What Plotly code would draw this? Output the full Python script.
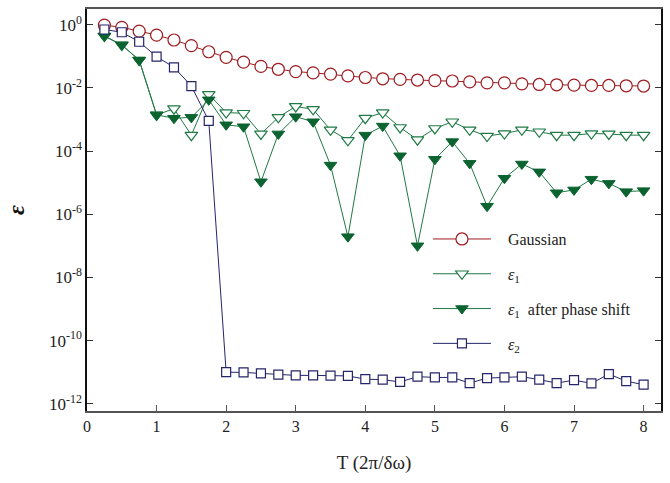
import plotly.graph_objects as go

T = [0.25 * i for i in range(1, 33)]

gaussian = [0.98, 0.83, 0.63, 0.47, 0.33, 0.22, 0.14, 0.093, 0.066, 0.048, 0.039, 0.033,
            0.030, 0.0275, 0.024, 0.0214, 0.0195, 0.0186, 0.0178, 0.0170, 0.0166, 0.0155,
            0.0145, 0.0145, 0.0135, 0.0129, 0.0126, 0.0123, 0.0120, 0.0120, 0.0117, 0.0115]

eps1 = [0.44, 0.23, 0.076, 1.4e-3, 2.2e-3, 3.2e-4, 6.3e-3, 1.66e-3, 1.58e-3, 3.5e-4,
        1.17e-3, 2.6e-3, 2.1e-3, 4.7e-4, 2.2e-4, 1.1e-3, 1.66e-3, 5.6e-4, 2.3e-4, 5.2e-4,
        8.5e-4, 4.7e-4, 3.0e-4, 3.6e-4, 4.7e-4, 4.1e-4, 3.2e-4, 3.2e-4, 3.6e-4, 3.5e-4,
        3.2e-4, 3.2e-4]

eps1_shift = [0.44, 0.23, 0.076, 1.4e-3, 1.1e-3, 1.17e-3, 4.2e-3, 6.8e-4, 5.9e-4, 1.07e-5,
              3.5e-4, 1.23e-3, 8.5e-4, 3.6e-5, 1.95e-7, 3.2e-4, 6.2e-4, 7.1e-5, 1.0e-7,
              5.5e-5, 2.0e-4, 4.1e-5, 1.8e-6, 1.38e-5, 3.9e-5, 2.2e-5, 4.8e-6, 5.9e-6,
              1.29e-5, 9.5e-6, 5.2e-6, 5.6e-6]

eps2 = [0.71, 0.58, 0.29, 0.098, 0.045, 0.0115, 9.1e-4, 1.0e-11, 9.8e-12, 9.1e-12,
        8.3e-12, 7.9e-12, 7.9e-12, 7.8e-12, 7.6e-12, 6.0e-12, 5.8e-12, 4.9e-12, 7.2e-12,
        6.8e-12, 6.8e-12, 4.5e-12, 6.5e-12, 6.8e-12, 7.2e-12, 5.8e-12, 4.5e-12, 5.6e-12,
        4.4e-12, 8.7e-12, 5.2e-12, 4.0e-12]

ytick_vals = [1, 1e-2, 1e-4, 1e-6, 1e-8, 1e-10, 1e-12]
ytick_text = ["10<sup>0</sup>", "10<sup>-2</sup>", "10<sup>-4</sup>", "10<sup>-6</sup>",
              "10<sup>-8</sup>", "10<sup>-10</sup>", "10<sup>-12</sup>"]
xtick_vals = [0, 1, 2, 3, 4, 5, 6, 7, 8]

FONT = "Liberation Serif"
RED = "#9e1b1f"
GREEN = "#1f7a45"
DGREEN = "#0b6330"
NAVY = "#25256b"
PAD = "\u00a0\u00a0\u00a0"

fig = go.Figure()
fig.add_trace(go.Scatter(
    x=T, y=gaussian, name=PAD + "Gaussian", mode="lines+markers", legendgroup="g1",
    line=dict(color=RED, width=1),
    marker=dict(symbol="circle", size=12, color="white", line=dict(color=RED, width=1.2))))
fig.add_trace(go.Scatter(
    x=T, y=eps1, name=PAD + "<i>ε</i><sub>1</sub>", mode="lines+markers", legendgroup="g2",
    line=dict(color=GREEN, width=1),
    marker=dict(symbol="triangle-down", size=11, color="white", line=dict(color=GREEN, width=1.2))))
fig.add_trace(go.Scatter(
    x=T, y=eps1_shift, name=PAD + "<i>ε</i><sub>1</sub>\u00a0 after phase shift",
    mode="lines+markers", legendgroup="g3",
    line=dict(color=GREEN, width=1),
    marker=dict(symbol="triangle-down", size=11, color=DGREEN, line=dict(color=DGREEN, width=1))))
fig.add_trace(go.Scatter(
    x=T, y=eps2, name=PAD + "<i>ε</i><sub>2</sub>", mode="lines+markers", legendgroup="g4",
    line=dict(color=NAVY, width=1),
    marker=dict(symbol="square", size=9, color="white", line=dict(color=NAVY, width=1.2))))

fig.update_layout(
    width=670, height=483,
    margin=dict(l=87, r=9, t=9, b=72, autoexpand=False),
    paper_bgcolor="white", plot_bgcolor="white",
    font=dict(family=FONT, size=16, color="#222"),
    showlegend=True,
    legend=dict(x=0.594, y=0.47, xanchor="left", yanchor="top", traceorder="grouped",
                bgcolor="rgba(0,0,0,0)", font=dict(family=FONT, size=16, color="#222"),
                itemwidth=58, tracegroupgap=11),
    xaxis=dict(range=[0, 8.25], tickvals=xtick_vals, ticks="inside", ticklen=6,
               showgrid=False, zeroline=False, showline=True, linecolor="#555",
               linewidth=1.5, mirror=True, tickcolor="#555", automargin=False,
               tickfont=dict(family=FONT, size=16, color="#222"),
               title=dict(text="T (2π/δω)", font=dict(family=FONT, size=19, color="#222"),
                          standoff=22)),
    yaxis=dict(type="log", range=[-12.23, 0.5], tickvals=ytick_vals, ticktext=ytick_text,
               ticks="inside", ticklen=6, showgrid=False, zeroline=False, showline=True,
               linecolor="#111", linewidth=1.5, mirror="ticks", tickcolor="#333",
               automargin=False,
               tickfont=dict(family=FONT, size=17, color="#222"),
               title=dict(text="<b><i>ε</i></b>", font=dict(family=FONT, size=24, color="#111"),
                          standoff=18)),
)

fig.write_html("out.html", config={"displayModeBar": False},
               post_script="document.body.style.margin='0';")
